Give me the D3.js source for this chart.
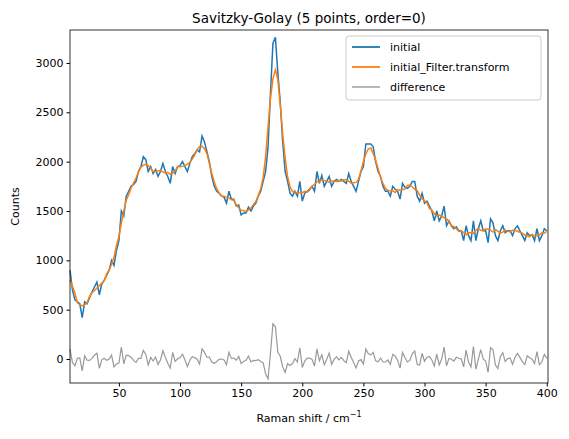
<!DOCTYPE html>
<html><head><meta charset="utf-8">
<script src="https://cdn.jsdelivr.net/npm/d3@7"></script>
<style>body{margin:0;background:#fff}text{font-family:"DejaVu Sans",sans-serif}</style>
</head><body><svg id="c" width="569" height="439"></svg>
<script>
const xStart = 10, xStep = 2;
const initial = [900,700,600,580,560,420,580,560,620,680,730,780,650,760,800,850,900,1000,950,1100,
1200,1500,1450,1650,1700,1750,1770,1800,1900,1950,2050,2020,1900,1950,1880,1920,1850,1900,1980,1900,
1850,1780,1950,1880,1950,1960,2000,1950,1900,1980,2050,2080,2120,2100,2260,2200,2100,2000,1850,1750,
1700,1680,1650,1640,1580,1700,1620,1620,1550,1560,1460,1480,1480,1540,1500,1550,1580,1650,1700,1800,
1900,2150,2700,3200,3260,2900,2600,2200,1900,1800,1680,1650,1700,1650,1800,1600,1680,1700,1720,1750,
1700,1900,1780,1860,1750,1800,1850,1750,1800,1820,1800,1820,1800,1780,1880,1800,1750,1700,1800,1900,
1950,2180,2180,2180,2150,2000,1900,1850,1750,1700,1700,1650,1750,1720,1700,1620,1780,1740,1730,1750,
1800,1800,1650,1600,1680,1580,1600,1550,1500,1400,1500,1400,1450,1550,1350,1400,1350,1320,1340,1300,
1300,1200,1350,1250,1200,1400,1200,1320,1400,1300,1300,1180,1420,1380,1250,1200,1300,1350,1280,1300,
1300,1250,1320,1350,1300,1250,1200,1280,1250,1260,1200,1320,1200,1250,1320,1300];
const xTicks = [50,100,150,200,250,300,350,400];
const yTicks = [0,500,1000,1500,2000,2500,3000];
const seriesNames = ["initial","initial_Filter.transform","difference"];
const colors = ["#1f77b4","#ff7f0e","#999999"];

const xs = initial.map((_, i) => xStart + i * xStep);
const n = initial.length;
const filtered = initial.map((_, i) => {
  let s = 0;
  for (let k = -2; k <= 2; k++) { let j = Math.min(n - 1, Math.max(0, i + k)); s += initial[j]; }
  return s / 5;
});
const diff = initial.map((v, i) => v - filtered[i]);

const svg = d3.select("#c");
const L = 70, R = 548, T = 30, B = 383;
const x = d3.scaleLinear().domain([10, 401]).range([L, R]);
const y = d3.scaleLinear().domain([-243, 3334]).range([B, T]);

const line = d3.line().x((d, i) => x(xs[i])).y(d => y(d));
[[initial,0,1.5],[filtered,1,1.5],[diff,2,1.2]].forEach(([d,c,w]) => {
  svg.append("path").datum(d).attr("d", line).attr("fill","none")
    .attr("stroke", colors[c]).attr("stroke-width", w);
});

const xa = svg.append("g").attr("transform", `translate(0,${B})`)
  .call(d3.axisBottom(x).tickValues(xTicks).tickFormat(d3.format("d")).tickSize(3.5).tickPadding(3));
const ya = svg.append("g").attr("transform", `translate(${L},0)`)
  .call(d3.axisLeft(y).tickValues(yTicks).tickFormat(d3.format("d")).tickSize(3.5).tickPadding(3));
[xa, ya].forEach(a => { a.select(".domain").remove(); a.selectAll("text").attr("font-size", 11).attr("fill","#000").style("font-family","DejaVu Sans"); a.selectAll("line").attr("stroke","#000"); });
svg.append("rect").attr("x", L).attr("y", T).attr("width", R - L).attr("height", B - T)
  .attr("fill","none").attr("stroke","#000").attr("stroke-width",0.8);

svg.append("text").attr("x", (L + R) / 2).attr("y", 23).attr("text-anchor","middle")
  .attr("font-size", 13.5).text("Savitzky-Golay (5 points, order=0)");
const xl = svg.append("text").attr("x", (L + R) / 2).attr("y", 422).attr("text-anchor","middle").attr("font-size", 11);
xl.append("tspan").text("Raman shift / cm");
xl.append("tspan").attr("font-size", 8).attr("dy", -5).text("−1");
svg.append("text").attr("transform", `translate(19,${(T + B) / 2}) rotate(-90)`).attr("text-anchor","middle")
  .attr("font-size", 11).text("Counts");

const lg = svg.append("g").attr("transform","translate(346,36)");
lg.append("rect").attr("width", 195).attr("height", 64).attr("rx", 3).attr("fill","#fff")
  .attr("fill-opacity",0.8).attr("stroke","#ccc");
seriesNames.forEach((s, i) => {
  const yy = 11 + i * 20;
  lg.append("line").attr("x1", 6).attr("x2", 34).attr("y1", yy).attr("y2", yy)
    .attr("stroke", colors[i]).attr("stroke-width", i == 2 ? 1.4 : 1.8);
  lg.append("text").attr("x", 44).attr("y", yy + 4).attr("font-size", 11).text(s);
});
</script></body></html>
